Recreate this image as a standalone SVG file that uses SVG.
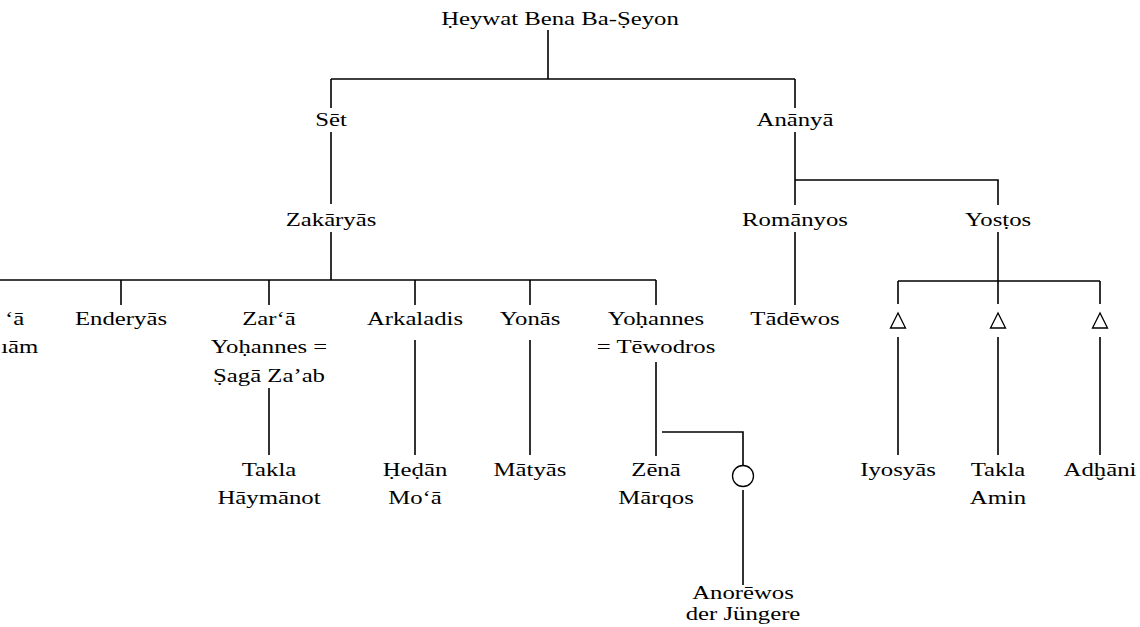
<svg xmlns="http://www.w3.org/2000/svg" width="1140" height="627" viewBox="0 0 1140 627">
<style>
text{font-family:"Liberation Serif","DejaVu Serif",serif;font-size:19.5px;fill:#000;text-anchor:middle}
.l{text-anchor:start}
.c path{fill:none;stroke:#000;stroke-width:1.6}
.sym{fill:none;stroke:#000;stroke-width:1.3}
</style>
<rect width="1140" height="627" fill="#fff"/>
<g id="connectors" class="c">
<path d="M548 30V79M331 79H795M331 79V108M795 79V108"/>
<path d="M331 132V204M795 132V205M795 180H998V205"/>
<path d="M331 232V280M0 280H656M121 280V305M269 280V305M415 280V305M530 280V305M656 280V305"/>
<path d="M795 232V305"/>
<path d="M998 232V281M898 281H1100M898 281V304M998 281V304M1100 281V304"/>
<path d="M898 337V455M998 337V455M1100 337V455"/>
<path d="M269 388V455M415 340V455M530 340V455M656 362V456"/>
<path d="M662 432H743V465M743 490V585"/>
</g>
<g id="n-heywat" transform="translate(560,25) scale(1.27,1)"><text>Ḥeywat Bena Ba-Ṣeyon</text></g>
<g id="n-set" transform="translate(331,126) scale(1.27,1)"><text>Sēt</text></g>
<g id="n-ananya" transform="translate(795,126) scale(1.27,1)"><text>Anānyā</text></g>
<g id="n-zakaryas" transform="translate(331,226) scale(1.27,1)"><text>Zakāryās</text></g>
<g id="n-romanyos" transform="translate(795,226) scale(1.27,1)"><text>Romānyos</text></g>
<g id="n-yostos" transform="translate(998,226) scale(1.27,1)"><text>Yosṭos</text></g>
<g id="n-left" transform="translate(5,325) scale(1.27,1)"><text class="l">‘ā<tspan x="-3" dy="28.5">ıām</tspan></text></g>
<g id="n-enderyas" transform="translate(121,325) scale(1.27,1)"><text>Enderyās</text></g>
<g id="n-zara" transform="translate(269,325) scale(1.27,1)"><text>Zar‘ā<tspan x="0" dy="28.5">Yoḥannes =</tspan><tspan x="0" dy="28.5">Ṣagā Za’ab</tspan></text></g>
<g id="n-arkaladis" transform="translate(415,325) scale(1.27,1)"><text>Arkaladis</text></g>
<g id="n-yonas" transform="translate(530,325) scale(1.27,1)"><text>Yonās</text></g>
<g id="n-yohannes" transform="translate(656,325) scale(1.27,1)"><text>Yoḥannes<tspan x="0" dy="28.5">= Tēwodros</tspan></text></g>
<g id="n-tadewos" transform="translate(795,325) scale(1.27,1)"><text>Tādēwos</text></g>
<g id="n-t1"><polygon class="sym" points="898,313 890.5,328 905.5,328"/></g>
<g id="n-t2"><polygon class="sym" points="998,313 990.5,328 1005.5,328"/></g>
<g id="n-t3"><polygon class="sym" points="1100,313 1092.5,328 1107.5,328"/></g>
<g id="n-takla-h" transform="translate(269,476) scale(1.27,1)"><text>Takla<tspan x="0" dy="28.5">Hāymānot</tspan></text></g>
<g id="n-hedan" transform="translate(415,476) scale(1.27,1)"><text>Ḥeḍān<tspan x="0" dy="28.5">Mo‘ā</tspan></text></g>
<g id="n-matyas" transform="translate(530,476) scale(1.27,1)"><text>Mātyās</text></g>
<g id="n-zena" transform="translate(656,476) scale(1.27,1)"><text>Zēnā<tspan x="0" dy="28.5">Mārqos</tspan></text></g>
<g id="n-circle"><circle class="sym" cx="743" cy="476" r="10.5"/></g>
<g id="n-iyosyas" transform="translate(898,476) scale(1.27,1)"><text>Iyosyās</text></g>
<g id="n-takla-a" transform="translate(998,476) scale(1.27,1)"><text>Takla<tspan x="0" dy="28.5">Amin</tspan></text></g>
<g id="n-adhani" transform="translate(1100,476) scale(1.27,1)"><text>Adḫāni</text></g>
<g id="n-anorewos" transform="translate(743,599) scale(1.27,1)"><text>Anorēwos<tspan x="0" dy="21">der Jüngere</tspan></text></g>
</svg>
